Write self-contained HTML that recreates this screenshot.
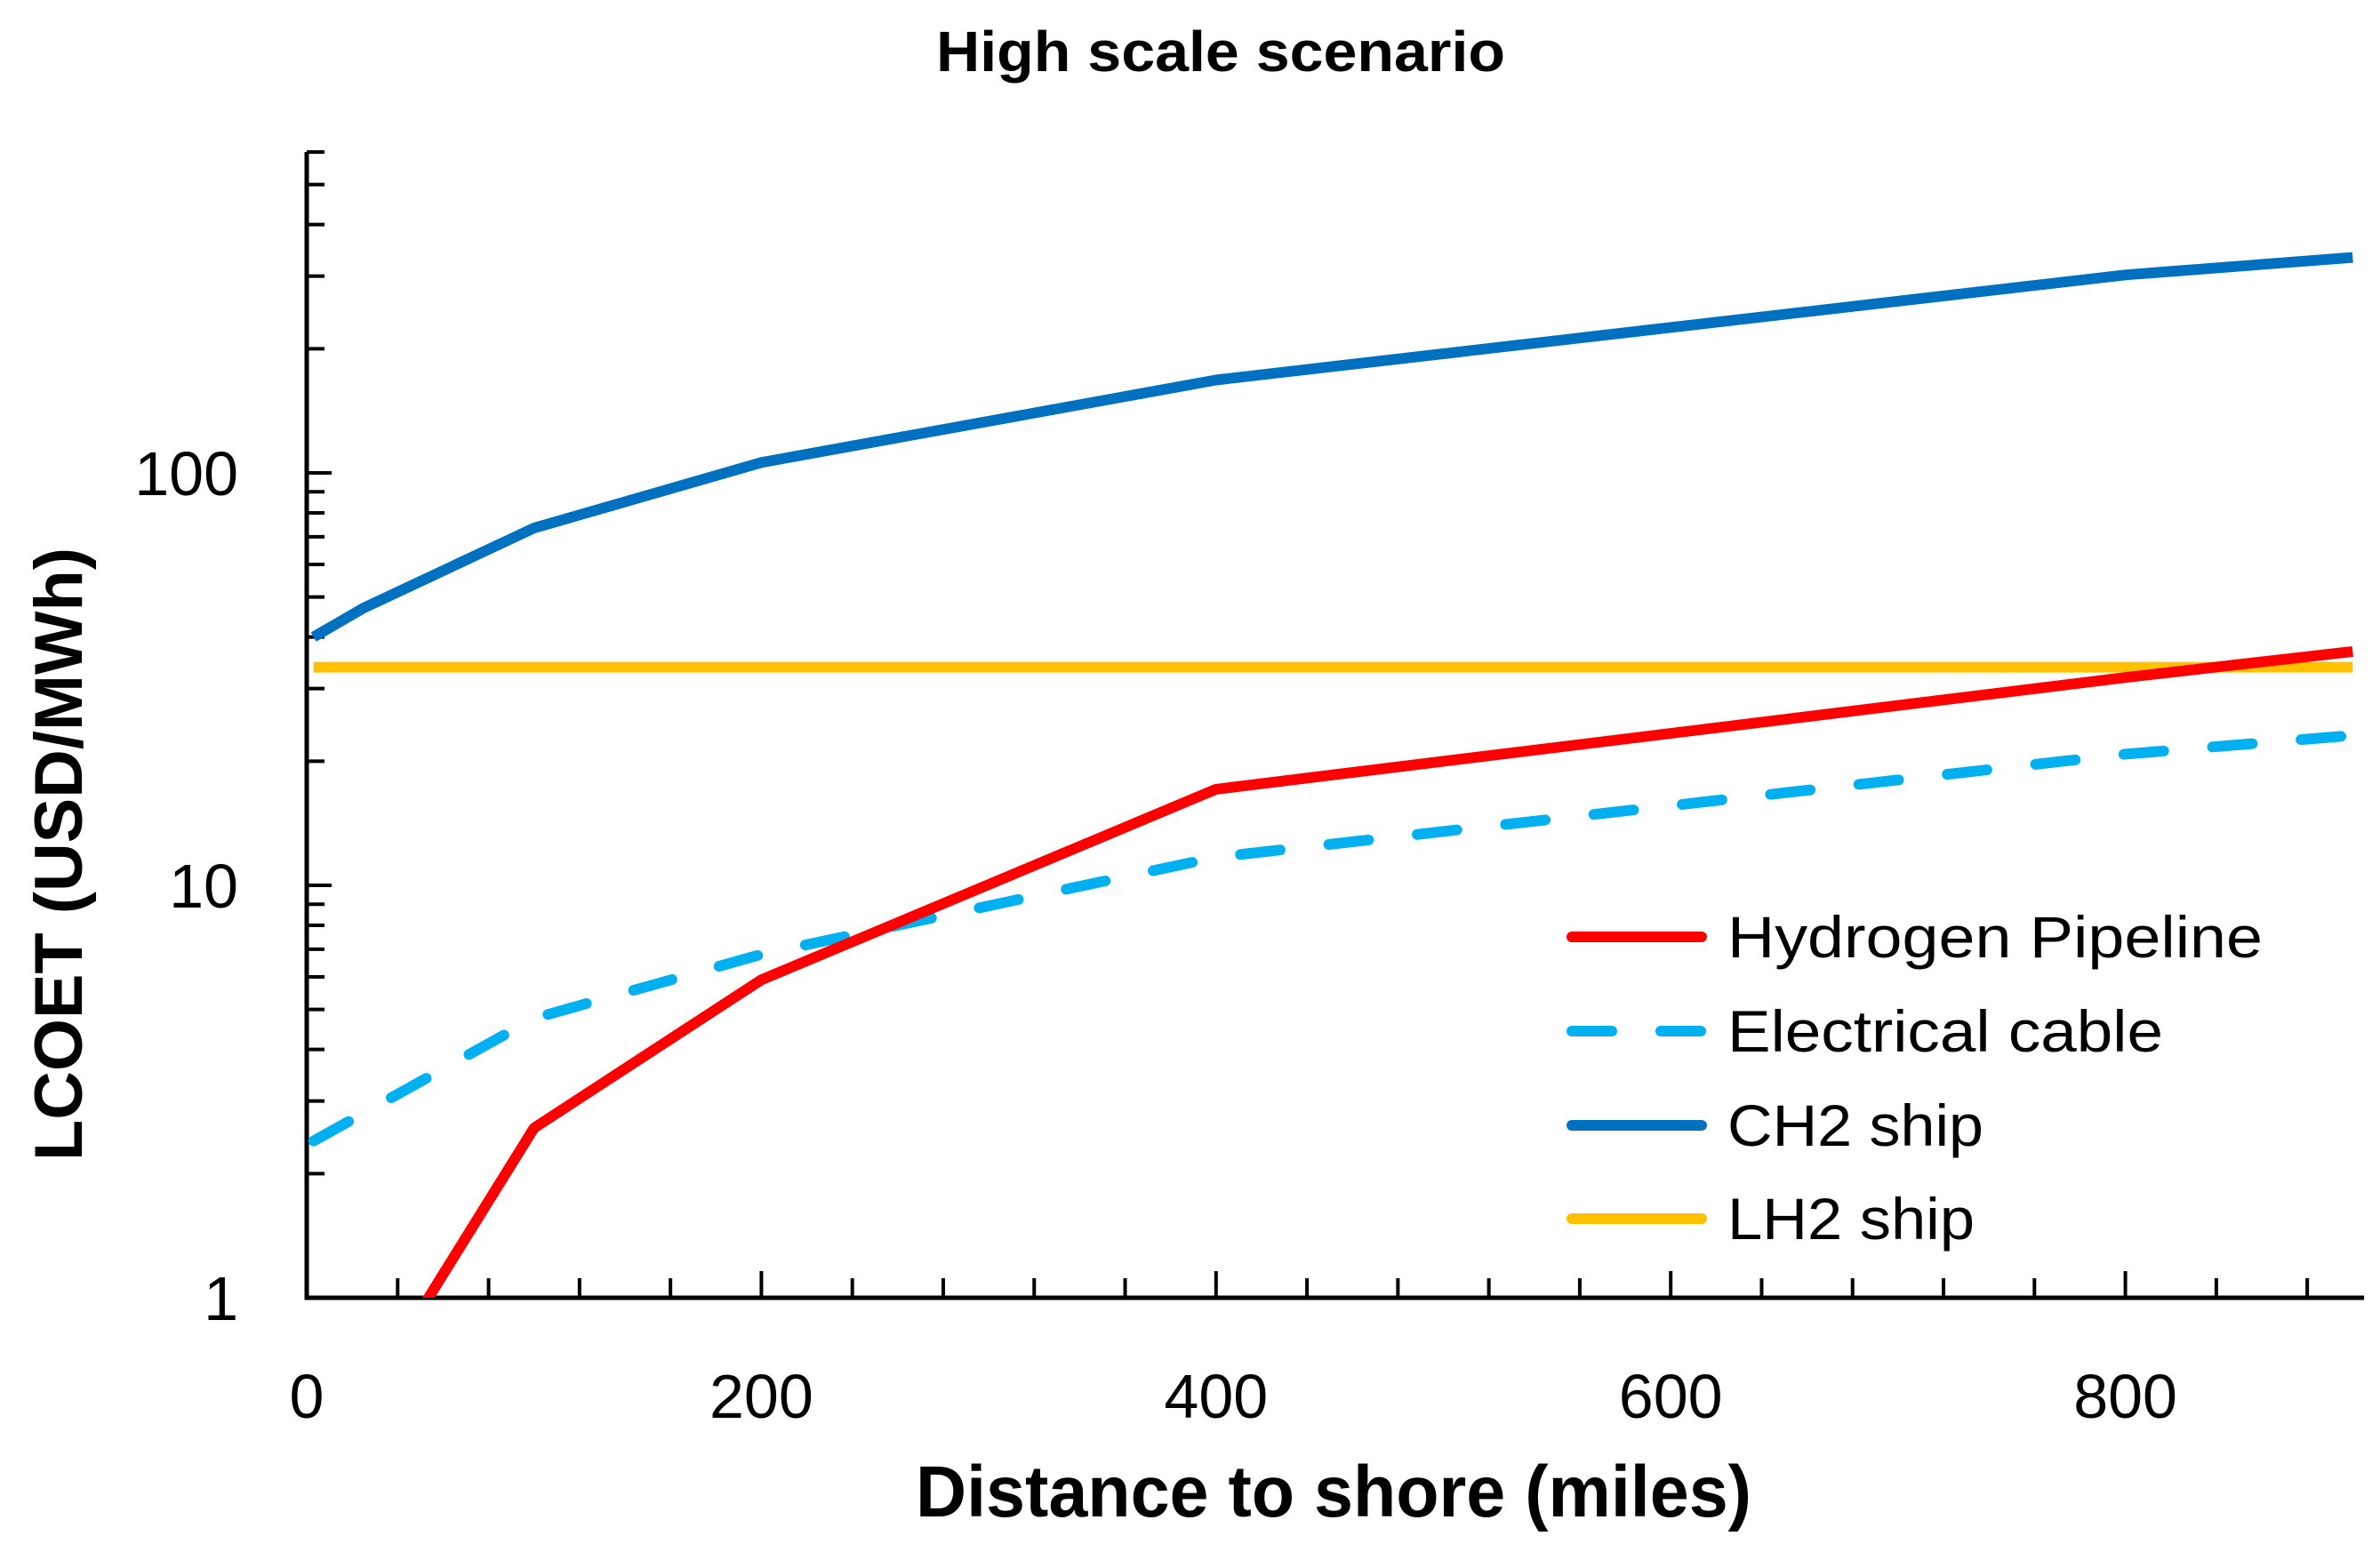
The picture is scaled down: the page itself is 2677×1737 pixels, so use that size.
<!DOCTYPE html>
<html><head><meta charset="utf-8"><style>
html,body{margin:0;padding:0;background:#fff;}
svg{display:block;font-family:"Liberation Sans",sans-serif;}
</style></head><body>
<svg id="chart" width="2677" height="1737" viewBox="0 0 2677 1737" xmlns="http://www.w3.org/2000/svg">
<text x="1373" y="80" text-anchor="middle" font-size="64" font-weight="bold" textLength="640" lengthAdjust="spacingAndGlyphs">High scale scenario</text>
<text x="1500" y="1706" text-anchor="middle" font-size="82" font-weight="bold" textLength="940" lengthAdjust="spacingAndGlyphs">Distance to shore (miles)</text>
<text transform="translate(92,961) rotate(-90)" text-anchor="middle" font-size="76" font-weight="bold" textLength="690" lengthAdjust="spacingAndGlyphs">LCOET (USD/MWh)</text>
<g id="grid"></g><g id="series"></g><g id="legend"></g>
</svg>
<script>
const xTicks=[0,200,400,600,800];
const yTicks=[1,10,100];
const yTickLabels=["1","10","100"];
const pipeX=[50,100,200,400,800,900];
const pipeY=[0.93,2.58,5.9,17.1,31.9,36.9];
const cableX=[3,100,200,400,800,900];
const cableY=[2.4,4.76,6.8,11.7,20.8,23.1];
const ch2X=[3,25,100,200,400,800,900];
const ch2Y=[40,47,73.5,106,168,302,333];
const lh2X=[3,900];
const lh2Y=[33.8,33.8];
const seriesNames=["Hydrogen Pipeline","Electrical cable","CH2 ship","LH2 ship"];

const X0=345,XPX=2.557,Y1=1460,DEC=464,YMAX=600;
const sx=v=>X0+v*XPX;
const sy=v=>Y1-Math.log10(v)*DEC;
const NS="http://www.w3.org/2000/svg";
function mk(tag,attrs,parent){const e=document.createElementNS(NS,tag);for(const k in attrs)e.setAttribute(k,attrs[k]);parent.appendChild(e);return e;}
const grid=document.getElementById('grid');
const series=document.getElementById('series');
const legend=document.getElementById('legend');
const clip=mk('clipPath',{id:'plotclip'},document.getElementById('chart'));
mk('rect',{x:X0,y:sy(YMAX)-20,width:sx(905)-X0,height:Y1-sy(YMAX)+20},clip);

let ax=mk('path',{d:`M${X0} ${sy(YMAX)} L${X0} ${Y1} L${sx(905)} ${Y1}`,fill:'none',stroke:'#000','stroke-width':5},grid);


for(let d=0;d<3;d++){for(let m=1;m<=9;m++){const v=m*Math.pow(10,d);if(v>YMAX)break;
 const t=mk('line',{x1:X0,x2:X0+(m===1?28:20),y1:sy(v),y2:sy(v),stroke:'#000','stroke-width':4},grid);
 
 }}
yTicks.forEach((v,i)=>{const t=mk('text',{x:268,y:sy(v)+25,'text-anchor':'end','font-size':70},grid);t.textContent=yTickLabels[i];
 
 });
for(let v=40;v<=880;v+=40){const major=v%200===0;
 const t=mk('line',{x1:sx(v),x2:sx(v),y1:Y1,y2:Y1-(major?30:22),stroke:'#000','stroke-width':4},grid);
 
 }
xTicks.forEach(v=>{const t=mk('text',{x:sx(v),y:1595,'text-anchor':'middle','font-size':70},grid);t.textContent=String(v);
 
 });

function line(xs,ys,color,dash,name){
 const d=xs.map((x,i)=>(i?'L':'M')+sx(x).toFixed(1)+' '+sy(ys[i]).toFixed(1)).join(' ');
 const p=mk('path',{d:d,fill:'none',stroke:color,'stroke-width':12,'stroke-linejoin':'round','stroke-linecap':dash?'round':'butt','clip-path':'url(#plotclip)'},series);
 if(dash)p.setAttribute('stroke-dasharray',dash);
 
 
}
line(lh2X,lh2Y,'#FFC000',null,'lh2-ship-line');
line(cableX,cableY,'#00B0F0','45 55','electrical-cable-line');
line(pipeX,pipeY,'#FF0000',null,'hydrogen-pipeline-line');
line(ch2X,ch2Y,'#0070C0',null,'ch2-ship-line');

const lcols=['#FF0000','#00B0F0','#0070C0','#FFC000'];
const lys=[1054,1160,1266,1371];
const lw=[602,490,288,278];
seriesNames.forEach((n,i)=>{
 const l=mk('line',{x1:1768,x2:1914,y1:lys[i],y2:lys[i],stroke:lcols[i],'stroke-width':12,'stroke-linecap':'round'},legend);
 if(i===1)l.setAttribute('stroke-dasharray','45 55');
 
 
 const t=mk('text',{x:1943,y:lys[i]+23,'font-size':66,textLength:lw[i],lengthAdjust:'spacingAndGlyphs'},legend);
 t.textContent=n;
 
 
});
</script>
</body></html>
